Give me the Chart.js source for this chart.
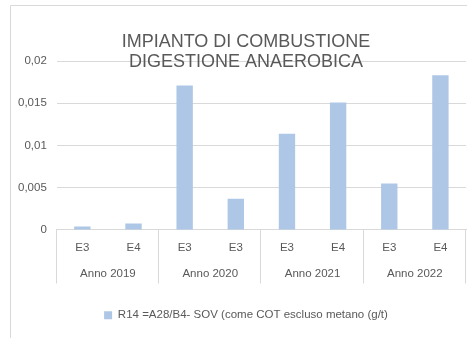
<!DOCTYPE html>
<html>
<head>
<meta charset="utf-8">
<script src="https://cdn.jsdelivr.net/npm/chart.js@4/dist/chart.umd.min.js"></script>
<style>
  html, body { margin: 0; padding: 0; background: #fff; overflow: hidden; }
  #wrap { width: 467px; height: 338px; position: relative; overflow: hidden; }
  #c { position: absolute; left: 0; top: 0; }
</style>
</head>
<body>
<div id="wrap"><canvas id="c" width="484" height="338"></canvas></div>
<script>
// Emission factor per line and year
const lineLabels = ['E3', 'E4', 'E3', 'E3', 'E3', 'E4', 'E3', 'E4'];
const yearLabels = ['Anno 2019', 'Anno 2020', 'Anno 2021', 'Anno 2022'];
const sovValues = [0.0004, 0.00075, 0.0171, 0.0037, 0.0114, 0.0151, 0.0055, 0.0183];
const yTickLabels = ['0', '0,005', '0,01', '0,015', '0,02'];
const seriesName = 'R14 =A28/B4- SOV (come COT escluso metano (g/t)';
const titleLines = ['IMPIANTO DI COMBUSTIONE', 'DIGESTIONE ANAEROBICA'];

const FONT = '"Liberation Sans", Arial, sans-serif';
const TEXT = '#595959';
const GRID = '#d9d9d9';
const SMALL = { family: FONT, size: 11.5 };

// Frame around the chart plus vertical separators between year groups
const framePlugin = {
  id: 'frame',
  beforeDraw(chart) {
    const ctx = chart.ctx;
    ctx.save();
    ctx.fillStyle = '#fff';
    ctx.fillRect(0, 0, chart.width, chart.height);
    ctx.strokeStyle = GRID;
    ctx.lineWidth = 1;
    ctx.beginPath();
    ctx.moveTo(10.5, chart.height);
    ctx.lineTo(10.5, 5.5);
    ctx.lineTo(chart.width, 5.5);
    ctx.stroke();
    ctx.restore();
  },
  afterDraw(chart) {
    const x = chart.scales.x, x2 = chart.scales.x2;
    const ctx = chart.ctx;
    const xs = [x.left];
    for (let i = 1; i < yearLabels.length; i++) {
      xs.push((x.getPixelForValue(2 * i - 1) + x.getPixelForValue(2 * i)) / 2);
    }
    xs.push(x.right);
    ctx.save();
    ctx.strokeStyle = GRID;
    ctx.lineWidth = 1;
    ctx.beginPath();
    xs.forEach(px => {
      const p = Math.round(px) - 0.5;
      ctx.moveTo(p, chart.chartArea.bottom);
      ctx.lineTo(p, x2.bottom + 2);
    });
    ctx.stroke();
    ctx.restore();
  }
};

new Chart(document.getElementById('c'), {
  type: 'bar',
  data: {
    labels: lineLabels,
    datasets: [{
      label: seriesName,
      data: sovValues,
      backgroundColor: '#aec7e7',
      borderWidth: 0,
      categoryPercentage: 1,
      barPercentage: 0.32
    }]
  },
  plugins: [framePlugin],
  options: {
    responsive: false,
    animation: false,
    layout: { padding: { top: 5, left: 8, right: 0, bottom: 7 } },
    scales: {
      y: {
        min: 0, max: 0.02,
        ticks: {
          stepSize: 0.005,
          color: TEXT,
          font: SMALL,
          padding: 10,
          callback: (v, i) => yTickLabels[i]
        },
        grid: { color: GRID, drawTicks: false },
        border: { display: false }
      },
      // empty right-hand margin of the plot frame
      yRight: {
        position: 'right',
        min: 0, max: 0.02,
        ticks: { display: false },
        grid: { display: false, drawTicks: false },
        border: { display: false },
        afterFit(scale) { scale.width = 18; }
      },
      x: {
        weight: 1,
        ticks: { color: TEXT, font: SMALL, padding: 11, maxRotation: 0 },
        grid: { display: false, drawTicks: false },
        border: { display: true, color: GRID }
      },
      x2: {
        type: 'category',
        position: 'bottom',
        weight: 2,
        labels: yearLabels,
        offset: true,
        ticks: { color: TEXT, font: SMALL, padding: 1, maxRotation: 0 },
        grid: { display: false, drawTicks: false },
        border: { display: false }
      }
    },
    plugins: {
      title: {
        display: true,
        text: titleLines,
        color: TEXT,
        font: { family: FONT, size: 18, weight: 'normal', lineHeight: '20px' },
        padding: { top: 27, bottom: -11 }
      },
      legend: {
        position: 'bottom',
        labels: {
          color: TEXT,
          font: SMALL,
          boxWidth: 8,
          boxHeight: 8,
          padding: 28
        }
      },
      tooltip: { enabled: false }
    }
  }
});
</script>
</body>
</html>
